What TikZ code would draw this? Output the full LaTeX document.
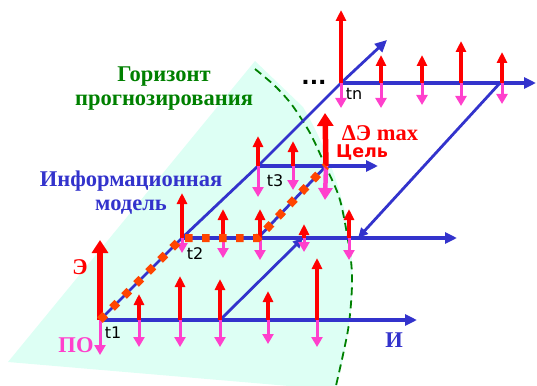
\documentclass[tikz,border=0pt]{standalone}
\usepackage{fontspec}
\setmainfont{Liberation Serif}
\newfontfamily\verd{DejaVu Sans}
\usetikzlibrary{arrows.meta}
\definecolor{modelblue}{RGB}{51,51,204}
\definecolor{effred}{RGB}{255,0,0}
\definecolor{popink}{RGB}{255,64,204}
\definecolor{routeorange}{RGB}{255,69,0}
\definecolor{zonecyan}{RGB}{221,255,244}
\definecolor{horgreen}{RGB}{0,128,0}
\begin{document}
\begin{tikzpicture}[x=1pt,y=-1pt,
    axis/.style={modelblue,line width=3.4pt,-{Triangle[length=12pt,width=11pt]}},
    link/.style={modelblue,line width=2.8pt},
    uparr/.style={effred,line width=3.5pt,-{Triangle[length=11pt,width=10pt]}},
    downarr/.style={popink,line width=3pt,-{Triangle[length=10pt,width=11pt]}},
    tlabel/.style={font=\verd\fontsize{16}{16}\selectfont},
    biglabel/.style={font=\bfseries\fontsize{22.5}{24}\selectfont,align=center}]
  \useasboundingbox (0,0) rectangle (537,385);
  % forecast zone
  \fill[zonecyan] (8,362) -- (255,61) -- (303,107) .. controls (340,170) and (356,240) .. (352,295)
    .. controls (350,330) and (343,360) .. (336,390) -- cycle;
  \draw[horgreen,line width=1.8pt,dash pattern=on 8pt off 5pt] plot[smooth] coordinates
    {(255,69) (275,86) (292,105) (310,133) (325,165) (340,200) (350,253) (352,285) (348,330) (335,390)};
  % grid of the model
  \coordinate (t1) at (100,320);
  \coordinate (t2) at (182,238);
  \coordinate (t3) at (258,166);
  \coordinate (tn) at (341,83);
  \coordinate (diagend) at (387,40);
  \coordinate (e1) at (417,320);
  \coordinate (e2) at (457,238);
  \coordinate (e3) at (378,166);
  \coordinate (en) at (536,83);
  \coordinate (m1) at (220,320);
  \coordinate (m1end) at (303,238);
  \coordinate (m2) at (258,238);
  \coordinate (goal) at (326,166);
  \coordinate (back) at (500,83);
  \coordinate (backend) at (358,238);
  \draw[axis] (t1) -- (e1);
  \draw[axis] (t2) -- (e2);
  \draw[axis] (t3) -- (e3);
  \draw[axis] (tn) -- (en);
  \draw[axis,line width=2.8pt] (t1) -- (t2) -- (t3) -- (tn) -- (diagend);
  \draw[axis,line width=2.8pt,-{Triangle[length=10pt,width=9pt]}] (m1) -- (m1end);
  \draw[axis,line width=2.8pt,-{Triangle[length=10pt,width=9pt]}] (back) -- (backend);
  \draw[link] (m2) -- (goal);
  % effect and losses at each state
  \foreach \x/\y/\top/\bot [count=\i] in {139/320/294/347, 180/320/276/347, 220/320/279/347,
      268/320/291/344, 317/320/258/347, 182/238/193/253, 223/238/209/258, 260/238/209/260,
      304/238/224/252, 349/238/209/260, 258/166/136/197, 293/166/141/190,
      341/83/10/108, 381/83/55/108, 422/83/55/105, 461/83/41/106, 502/83/52/104} {
    \coordinate (base\i) at (\x,\y);
    \coordinate (hi\i) at (\x,\top);
    \coordinate (lo\i) at (\x,\bot);
    \draw[downarr] (base\i) -- (lo\i);
    \draw[uparr] (base\i) -- (hi\i);
  }
  \coordinate (t1hi) at (100,240);
  \coordinate (t1lo) at (100,355);
  \coordinate (goalhi) at (325,113);
  \coordinate (goallo) at (325,200);
  \draw[downarr] (t1) -- (t1lo);
  \draw[uparr,line width=5.5pt,-{Triangle[length=13pt,width=16pt]}] (t1) -- (t1hi);
  \draw[downarr,line width=4.5pt,-{Triangle[length=12pt,width=14pt]}] (goal) -- (goallo);
  \draw[uparr,line width=5.5pt,-{Triangle[length=13pt,width=16pt]}] (goal) -- (goalhi);
  % optimal route
  \draw[routeorange,line width=8pt,dash pattern=on 7.5pt off 9.5pt] (t1) -- (t2) -- (m2) -- (goal);
  % labels
  \node[tlabel] (t1lbl) at (113,333) {t1};
  \node[tlabel] (t2lbl) at (195,254) {t2};
  \node[tlabel] (t3lbl) at (275,181) {t3};
  \node[tlabel] (tnlbl) at (354,94) {tn};
  \node[font=\verd\bfseries\fontsize{22}{22}\selectfont] (dots) at (314,82) {...};
  \node[biglabel,horgreen] (horizon) at (164,89) {Горизонт\\прогнозирования};
  \node[biglabel,modelblue] (model) at (131,193) {Информационная\\модель};
  \node[biglabel,effred] (elbl) at (80,267) {Э};
  \node[biglabel,popink] (polbl) at (76,345) {ПО};
  \node[biglabel,modelblue] (ilbl) at (394,340) {И};
  \node[biglabel,effred] (dmax) at (380,133) {ΔЭ max};
  \node[font=\verd\bfseries\fontsize{17.5}{17.5}\selectfont,effred] (goallbl) at (362,152) {Цель};
\end{tikzpicture}
\end{document}
